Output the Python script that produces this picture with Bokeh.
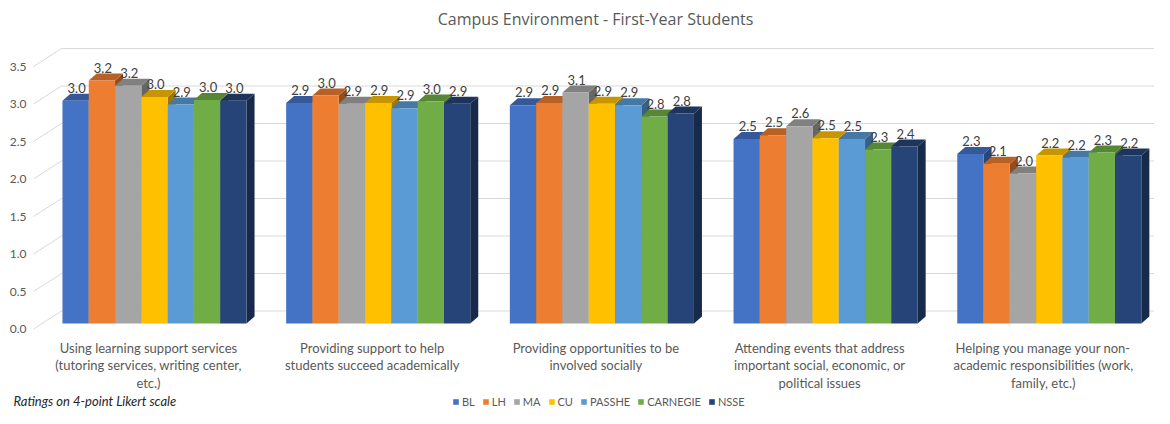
from bokeh.plotting import figure
from bokeh.models import Range1d, Legend, LegendItem, Label
from bokeh.core.properties import value
from bokeh.embed import file_html
from bokeh.resources import INLINE

# ---------------- data ----------------
categories = [
    "Using learning support services\n(tutoring services, writing center,\netc.)",
    "Providing support to help\nstudents succeed academically",
    "Providing opportunities to be\ninvolved socially",
    "Attending events that address\nimportant social, economic, or\npolitical issues",
    "Helping you manage your non-\nacademic responsibilities (work,\nfamily, etc.)",
]
series = ["BL", "LH", "MA", "CU", "PASSHE", "CARNEGIE", "NSSE"]
BL = [2.97, 2.94, 2.91, 2.46, 2.26]
LH = [3.24, 3.04, 2.94, 2.51, 2.13]
MA = [3.17, 2.93, 3.08, 2.63, 2.00]
CU = [3.02, 2.94, 2.93, 2.47, 2.24]
PASSHE = [2.92, 2.87, 2.91, 2.46, 2.21]
CARNEGIE = [2.98, 2.96, 2.76, 2.32, 2.28]
NSSE = [2.97, 2.93, 2.80, 2.36, 2.24]
y_ticks = [0.0, 0.5, 1.0, 1.5, 2.0, 2.5, 3.0, 3.5]
title_text = "Campus Environment - First-Year Students"
footnote_text = "Ratings on 4-point Likert scale"

# ---------------- style / layout ----------------
values_by_series = [BL, LH, MA, CU, PASSHE, CARNEGIE, NSSE]
colors = ["#4472C4", "#ED7D31", "#A5A5A5", "#FFC000", "#5B9BD5", "#70AD47", "#264478"]
FONT = "Lato"
TXT = "#595959"
W, H = 1154, 408
SX, SY = 223.7, 75.0            # pixels per data unit
X0 = -154 / SX                  # category 0 centre sits 154 px from the left edge
X1 = X0 + W / SX
Y1 = 323 / SY                   # value 0 sits 323 px below the top edge
Y0 = Y1 - H / SY


def px(x_pix):
    return X0 + x_pix / SX


def py(y_pix):
    return (323 - y_pix) / SY


def shade(hex_color, f):
    h = hex_color.lstrip("#")
    r, g, b = (int(h[i:i + 2], 16) for i in (0, 2, 4))
    return "#%02x%02x%02x" % (int(r * f), int(g * f), int(b * f))


bar_w = 26.3 / SX
dx, dy = 8 / SX, 7 / SY               # 3-D depth of bars
front_off, back_off = 5.5 / SY, 12.5 / SY

p = figure(width=W, height=H, x_range=Range1d(X0, X1), y_range=Range1d(Y0, Y1),
           x_axis_type=None, y_axis_type=None,
           output_backend="svg", toolbar_location=None,
           min_border_left=0, min_border_right=0, min_border_top=0, min_border_bottom=0)
p.outline_line_color = None
p.xgrid.visible = False
p.ygrid.visible = False

# gridlines: diagonal on the side wall, horizontal on the back wall
gx, gy = [], []
for t in y_ticks:
    gx.append([px(33), px(61), px(W)])
    gy.append([t - front_off, t + back_off, t + back_off])
p.multi_line(gx, gy, line_color="#d9d9d9", line_width=1)

# y tick labels (value scale)
p.text(x=[px(26)] * len(y_ticks), y=y_ticks, text=[f"{t:.1f}" for t in y_ticks],
       text_align="right", text_baseline="middle", y_offset=5.5,
       text_font=value(FONT), text_font_size="12px", text_color=TXT)

# bars (side face, top face, front face)
n = len(series)
legend_items = []
for i, (name, vals, col) in enumerate(zip(series, values_by_series, colors)):
    sx, sy, tx, ty, cx = [], [], [], [], []
    for g, h in enumerate(vals):
        left = g + (i - n / 2) * bar_w
        right = left + bar_w
        sx.append([right, right + dx, right + dx, right])
        sy.append([0, dy, h + dy, h])
        tx.append([left, right, right + dx, left + dx])
        ty.append([h, h, h + dy, h + dy])
        cx.append(left + bar_w / 2)
    p.patches(sx, sy, fill_color=shade(col, 0.62), line_color=None)
    p.patches(tx, ty, fill_color=shade(col, 0.78), line_color=None)
    r = p.vbar(x=cx, top=vals, bottom=0, width=bar_w, fill_color=col, line_color=None)
    legend_items.append(LegendItem(label=name, renderers=[r]))

# value labels
lx, ly, lt = [], [], []
for i, vals in enumerate(values_by_series):
    for g, h in enumerate(vals):
        lx.append(g + (i - (n - 1) / 2) * bar_w)
        ly.append(h)
        lt.append(f"{h:.1f}")
p.text(x=lx, y=ly, text=lt, text_align="center", text_baseline="middle",
       x_offset=1, y_offset=-13, text_font=value(FONT), text_font_size="13px",
       text_color="#404040")

# category labels
p.text(x=[g - 6 / SX for g in range(len(categories))], y=[0] * len(categories),
       text=categories, text_align="center", text_baseline="top", y_offset=16,
       text_line_height=1.1, text_font=value(FONT), text_font_size="13px",
       text_color=TXT)

legend = Legend(items=legend_items, orientation="horizontal", location=(452, 0),
                glyph_width=7, glyph_height=7, label_height=12, label_width=0,
                label_standoff=3, spacing=7, padding=0, margin=0,
                border_line_color=None, background_fill_alpha=0,
                label_text_font=FONT, label_text_font_size="11px",
                label_text_color=TXT)
p.add_layout(legend)

p.add_layout(Label(x=px(595), y=py(18), text=title_text,
                   text_align="center", text_baseline="middle", text_font="Open Sans",
                   text_font_size="16px", text_color=TXT))
p.add_layout(Label(x=px(13), y=py(400), text=footnote_text,
                   text_align="left", text_baseline="middle", text_font=FONT,
                   text_font_style="italic", text_font_size="13px", text_color="#262626"))

open("out.html", "w").write(file_html(p, INLINE))
